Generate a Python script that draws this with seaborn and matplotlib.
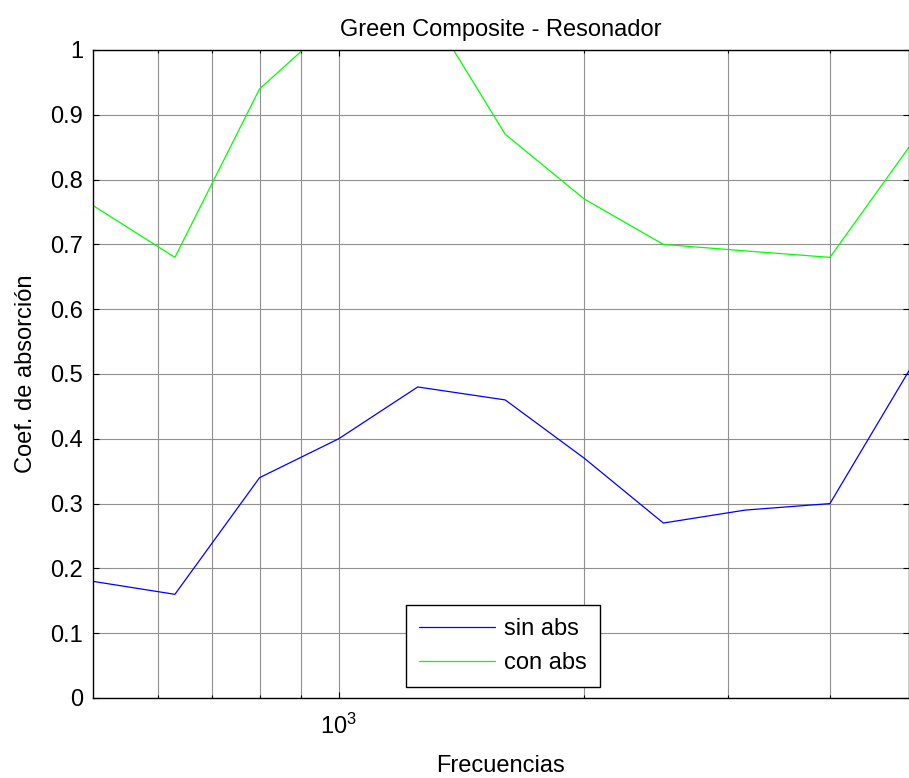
import matplotlib
matplotlib.use("Agg")
import matplotlib.pyplot as plt
import seaborn as sns
import pandas as pd
from matplotlib.ticker import FixedLocator, NullFormatter, FixedFormatter

freqs = [500, 630, 800, 1000, 1250, 1600, 2000, 2500, 3150, 4000, 5000]
sin_abs = [0.18, 0.16, 0.34, 0.40, 0.48, 0.46, 0.37, 0.27, 0.29, 0.30, 0.505]
con_abs = [0.76, 0.68, 0.94, 1.05, 1.09, 0.87, 0.77, 0.70, 0.69, 0.68, 0.85]
y_ticks = [0, 0.1, 0.2, 0.3, 0.4, 0.5, 0.6, 0.7, 0.8, 0.9, 1]
y_tick_labels = ["0", "0.1", "0.2", "0.3", "0.4", "0.5", "0.6", "0.7", "0.8", "0.9", "1"]

df = pd.DataFrame({"f": freqs * 2,
                   "v": sin_abs + con_abs,
                   "s": ["sin abs"] * len(freqs) + ["con abs"] * len(freqs)})

sns.set_theme(style="white")
plt.rcParams['font.family'] = ['Liberation Sans', 'DejaVu Sans']
plt.rcParams['text.color'] = 'black'
plt.rcParams['axes.labelcolor'] = 'black'

FS = 17

fig = plt.figure(figsize=(9.09, 7.78), dpi=100)
ax = fig.add_axes([93/909, 1 - 698/778, (909-93)/909, (698-50)/778])

sns.lineplot(data=df, x="f", y="v", hue="s", palette={"sin abs": "#0000ff", "con abs": "#00ff00"},
             ax=ax, linewidth=0.9, legend=True)
ax.set_xscale("log")
ax.set_xlim(500, 5000)
ax.set_ylim(0, 1)

major = [1000]
minor = [600, 700, 800, 900, 2000, 3000, 4000]
ax.xaxis.set_major_locator(FixedLocator(major))
ax.xaxis.set_major_formatter(FixedFormatter([r"$\mathregular{10^3}$"]))
ax.xaxis.set_minor_locator(FixedLocator(minor))
ax.xaxis.set_minor_formatter(NullFormatter())
ax.set_yticks(y_ticks)
ax.set_yticklabels(y_tick_labels)

ax.grid(True, which="both", axis="x", color="#909090", linewidth=0.8)
ax.grid(True, which="major", axis="y", color="#909090", linewidth=0.8)
ax.tick_params(axis="both", which="both", direction="in", length=4, width=0.8, colors="black",
               labelsize=FS, top=True, right=True, bottom=True, left=True)
ax.tick_params(axis="y", pad=7)
ax.tick_params(axis="x", pad=11)
ax.tick_params(axis="x", which="minor", length=2)
for sp in ax.spines.values():
    sp.set_color("black")
    sp.set_linewidth(1.0)

ax.set_title("Green Composite - Resonador", fontsize=FS, pad=10)
ax.set_xlabel("Frecuencias", fontsize=FS, labelpad=12)
ax.set_ylabel("Coef. de absorción", fontsize=FS, labelpad=10)

h, l = ax.get_legend_handles_labels()
leg = ax.legend(h, l, loc="lower left", bbox_to_anchor=(0.3836, 0.017), borderaxespad=0,
                fontsize=FS, frameon=True, fancybox=False, edgecolor="black", framealpha=1,
                handlelength=3.2, handletextpad=0.4, borderpad=0.55, labelspacing=0.5)
leg.get_frame().set_linewidth(1.0)

fig.savefig("out.png", dpi=100)
